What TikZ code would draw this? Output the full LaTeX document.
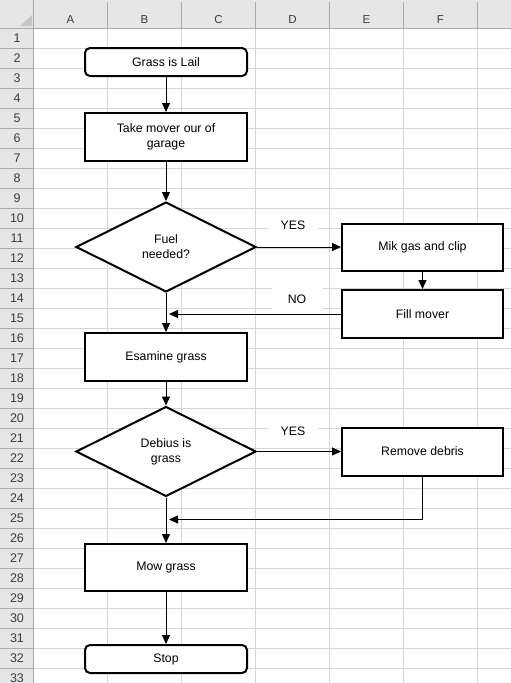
\documentclass[tikz,border=0pt]{standalone}
\usepackage{fontspec}
\setmainfont{Liberation Sans}
\usepackage{tikz}
\usetikzlibrary{shapes.geometric, arrows.meta, calc}
\definecolor{gridgray}{RGB}{214,214,214}
\definecolor{headgray}{RGB}{230,230,230}
\definecolor{headline}{RGB}{171,171,171}
\definecolor{headtext}{RGB}{60,60,60}

\tikzset{
    box/.style={rectangle,draw,fill=white,line width=2pt,minimum width=162pt,minimum height=48pt,align=center,font=\fontsize{12.3}{15}\selectfont},
    term/.style={box,rounded corners=5pt,minimum height=28pt},
    decision/.style={diamond,draw,fill=white,line width=2pt,minimum width=180pt,minimum height=90pt,inner sep=0pt,align=center,font=\fontsize{12.3}{15}\selectfont},
    flow/.style={-{Triangle[length=9pt,width=8pt]},line width=1pt},
    answer/.style={fill=white,minimum width=50pt,minimum height=24pt,inner sep=0pt,font=\fontsize{12.3}{15}\selectfont},
    colhead/.style={text=headtext,font=\fontsize{11.5}{13}\selectfont},
    rowhead/.style={text=headtext,font=\fontsize{12.5}{14}\selectfont}
}

\begin{document}
\begin{tikzpicture}[x=1pt,y=-1pt]
    % Foglio
    \path[use as bounding box,fill=white] (0,0) rectangle (511,683);
    \foreach \r in {1,...,32}
        \draw[gridgray] (33.5,{28+20*\r}) -- (511,{28+20*\r});
    \foreach \c in {1,...,6}
        \draw[gridgray] ({33.5+74*\c},28) -- ({33.5+74*\c},683);

    % Intestazioni
    \fill[headgray] (0,0) rectangle (511,28);
    \fill[headgray] (0,0) rectangle (33.5,683);
    \foreach \c in {1,...,6}
        \draw[gridgray!80!black] ({33.5+74*\c},2) -- ({33.5+74*\c},28);
    \foreach \r in {1,...,32}
        \draw[gridgray!80!black] (0,{28+20*\r}) -- (33.5,{28+20*\r});
    \draw[headline] (0,28) -- (511,28);
    \draw[headline] (33.5,0) -- (33.5,683);
    \fill[gray!45] (32,15) -- (32,26) -- (20,26) -- cycle;
    \foreach \l [count=\i] in {A,B,C,D,E,F}
        \node[colhead] (col\l) at ({33.5+74*\i-37},19.5) {\l};
    \foreach \r in {1,...,33}
        \node[rowhead] (row\r) at (17,{18+20*\r}) {\r};

    % Flusso principale
    \node[term] (start) at (166,62) {Grass is Lail};
    \node[box] (garage) at (166,137) {Take mover our of\\garage};
    \node[decision] (fuel) at (166,247) {Fuel\\needed?};
    \node[box,minimum width=161pt,minimum height=47pt] (mix) at (422.5,247) {Mik gas and clip};
    \node[box,minimum width=161pt] (fill) at (422.5,314) {Fill mover};
    \node[box] (examine) at (166,357) {Esamine grass};
    \node[decision] (debris) at (166,451.5) {Debius is\\grass};
    \node[box,minimum width=161pt] (remove) at (422.5,451.5) {Remove debris};
    \node[box,minimum height=47pt] (mow) at (166,567.5) {Mow grass};
    \node[term] (stop) at (166,659) {Stop};

    % Risposte
    \node[answer] (yes1) at (293,225) {YES};
    \node[answer] (no1) at (297,299) {NO};
    \node[answer] (yes2) at (293,431) {YES};

    % Frecce
    \coordinate (join1) at (fuel.south |- fill.west);
    \coordinate (join2) at ($(debris.south)+(0,22)$);
    \draw[flow] (start) -- (garage);
    \draw[flow] (garage) -- (fuel);
    \draw[flow] (fuel.east) -- (mix.west);
    \draw[flow] (mix) -- (fill);
    \draw[flow,shorten >=3pt] (fill.west) -- (join1);
    \draw[flow] (fuel) -- (examine);
    \draw[flow] (examine) -- (debris);
    \draw[flow] (debris.east) -- (remove.west);
    \draw[flow,shorten >=3pt] (remove.south) |- (join2);
    \draw[flow] (debris) -- (mow);
    \draw[flow] (mow) -- (stop);
\end{tikzpicture}
\end{document}
